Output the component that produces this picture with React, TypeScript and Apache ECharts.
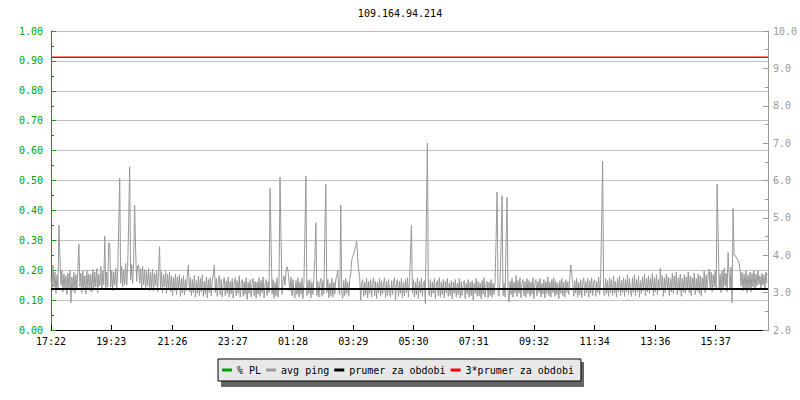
import React, { useEffect, useRef } from "react";
import * as echarts from "echarts";

const title = "109.164.94.214";
// minutes after 17:22 at which the time ticks sit
const tickMinutes = [0, 121, 244, 365, 486, 607, 728, 849, 970, 1092, 1214, 1335];
const tickLabels = ["17:22", "19:23", "21:26", "23:27", "01:28", "03:29", "05:30", "07:31", "09:32", "11:34", "13:36", "15:37"];
const periodMinutes = 1440;
const sampleStepMinutes = 2;
const seriesNames = ["% PL", "avg ping", "prumer za obdobi", "3*prumer za obdobi"];
const seriesColors = ["#00a000", "#999999", "#000000", "#ff0000"];
const avgPing = 3.1;
const tripleAvg = 9.3;
const plValues: number[] = [];
const pingValues = [
  3.40, 3.05, 3.74, 3.15, 3.55, 2.98, 3.48, 3.10, 4.81, 3.96, 3.20, 3.58, 3.02, 3.50, 3.12, 3.45, 2.95, 3.52, 3.08, 3.60,
  2.73, 3.42, 3.05, 3.55, 2.98, 3.48, 3.10, 3.62, 4.30, 3.15, 3.52, 3.00, 3.58, 3.08, 3.45, 2.96, 3.60, 3.12, 3.50, 3.05,
  3.48, 3.02, 3.62, 3.10, 3.55, 3.15, 3.65, 3.00, 3.50, 3.18, 3.70, 3.08, 3.58, 3.20, 4.51, 3.12, 3.55, 3.15, 4.34, 4.30,
  3.15, 3.60, 3.05, 3.55, 3.20, 3.65, 3.08, 3.58, 4.78, 6.06, 3.25, 3.70, 3.15, 3.62, 3.22, 3.78, 3.20, 3.68, 4.87, 6.37,
  3.35, 3.75, 3.25, 3.80, 5.34, 4.14, 3.30, 3.72, 3.74, 3.25, 3.65, 3.12, 3.70, 3.20, 3.62, 3.10, 3.58, 3.18, 3.66, 3.05,
  3.55, 3.12, 3.62, 3.05, 3.52, 3.18, 3.60, 3.02, 3.50, 4.23, 3.10, 3.56, 3.00, 3.48, 3.15, 3.58, 2.98, 3.50, 3.08, 3.55,
  3.02, 3.45, 2.92, 3.40, 3.05, 3.50, 2.95, 3.42, 3.08, 3.48, 2.90, 3.38, 3.00, 3.45, 2.94, 3.35, 3.05, 3.52, 3.74, 3.02,
  3.40, 2.92, 3.35, 3.00, 3.46, 2.88, 3.32, 2.98, 3.44, 2.92, 3.38, 3.02, 3.48, 2.90, 3.30, 2.96, 3.42, 2.86, 3.35, 3.00,
  3.40, 2.92, 3.32, 3.50, 3.74, 3.00, 3.38, 2.90, 3.30, 3.45, 2.94, 3.35, 2.88, 3.28, 3.40, 2.92, 3.32, 2.98, 3.42, 2.88,
  3.30, 2.96, 3.38, 2.85, 3.28, 3.40, 2.92, 3.32, 2.98, 3.45, 2.88, 3.25, 3.35, 2.90, 3.30, 2.95, 3.40, 2.82, 3.28, 2.98,
  3.35, 2.88, 3.25, 3.38, 2.92, 3.30, 2.85, 3.28, 2.96, 3.40, 2.90, 3.32, 3.00, 3.42, 2.86, 3.25, 3.35, 2.92, 3.30, 3.00,
  5.79, 4.39, 2.96, 3.35, 2.85, 3.28, 2.92, 3.40, 2.88, 3.25, 6.09, 4.51, 2.95, 3.32, 3.45, 3.20, 3.55, 3.69, 3.60, 3.30,
  3.05, 3.42, 2.92, 3.35, 2.98, 2.86, 3.32, 2.95, 3.40, 2.88, 3.28, 2.96, 3.38, 2.84, 3.25, 4.60, 6.12, 2.92, 3.32, 2.98,
  3.35, 2.86, 3.28, 2.95, 3.40, 3.93, 4.87, 2.92, 3.30, 2.88, 3.25, 3.38, 2.90, 3.32, 2.96, 4.57, 5.90, 3.00, 3.35, 2.86,
  3.25, 2.92, 3.38, 2.88, 3.28, 2.96, 3.35, 3.45, 3.60, 3.08, 2.95, 5.34, 3.02, 2.85, 3.32, 2.92, 3.38, 2.98, 3.28, 2.90,
  3.35, 3.50, 3.87, 3.95, 4.03, 4.15, 4.25, 4.38, 3.90, 3.60, 3.40, 2.80, 3.25, 3.35, 2.90, 3.28, 2.95, 3.38, 2.86, 3.30,
  2.98, 3.35, 2.88, 3.25, 3.40, 2.92, 3.30, 2.84, 3.28, 3.00, 3.38, 2.90, 3.32, 2.96, 3.25, 3.40, 2.86, 3.30, 2.92, 3.35,
  3.00, 2.88, 3.32, 2.95, 3.28, 3.40, 2.80, 3.25, 3.35, 2.90, 3.30, 2.98, 3.38, 2.86, 3.28, 2.92, 3.35, 3.00, 3.40, 2.88,
  3.30, 3.98, 4.81, 2.98, 3.35, 2.88, 3.28, 2.95, 3.40, 2.84, 3.30, 3.00, 3.38, 2.90, 3.25, 3.32, 2.70, 5.00, 7.00, 3.05,
  2.92, 3.35, 2.88, 3.28, 2.98, 3.38, 2.84, 3.25, 3.32, 2.92, 3.40, 2.88, 3.28, 2.95, 3.35, 2.86, 3.30, 3.00, 3.38, 2.90,
  3.25, 2.92, 3.32, 2.84, 3.28, 2.98, 3.35, 2.88, 3.25, 2.95, 3.38, 2.86, 3.30, 2.92, 3.22, 3.32, 2.84, 3.25, 2.96, 3.35,
  2.88, 3.28, 2.92, 3.32, 2.80, 3.25, 2.98, 3.38, 2.90, 3.30, 2.92, 3.25, 2.84, 3.32, 2.95, 3.40, 2.88, 3.22, 3.30, 2.86,
  3.28, 2.92, 3.35, 2.88, 3.25, 2.95, 3.32, 4.43, 5.69, 2.98, 2.90, 3.30, 4.30, 5.59, 2.92, 3.25, 2.88, 4.30, 5.55, 3.00,
  2.75, 3.30, 2.95, 3.38, 2.88, 3.28, 3.00, 3.45, 2.90, 3.32, 2.98, 3.40, 2.86, 3.25, 3.35, 2.92, 3.30, 2.88, 3.38, 2.98,
  3.32, 2.90, 3.28, 2.95, 3.40, 2.84, 3.25, 3.35, 2.92, 3.30, 3.00, 3.38, 2.88, 3.25, 2.96, 3.35, 2.86, 3.30, 2.98, 3.42,
  2.92, 3.28, 2.88, 3.35, 3.00, 3.40, 2.90, 3.30, 2.95, 3.25, 2.84, 3.32, 2.98, 3.38, 2.92, 3.28, 2.88, 3.35, 3.00, 3.30,
  2.95, 3.40, 3.74, 3.50, 3.25, 2.90, 3.32, 2.98, 3.38, 2.88, 3.28, 2.95, 3.35, 2.86, 3.25, 3.40, 2.92, 3.30, 3.00, 3.38,
  2.88, 3.32, 2.98, 3.40, 2.92, 3.28, 3.35, 2.90, 3.30, 3.00, 3.42, 2.95, 3.35, 4.86, 6.52, 3.02, 2.92, 3.38, 2.98, 3.32,
  2.90, 3.40, 3.00, 3.35, 2.92, 3.45, 2.98, 3.30, 2.88, 3.38, 3.02, 3.45, 2.92, 3.32, 3.00, 3.40, 2.90, 3.35, 3.02, 3.48,
  2.95, 3.38, 3.05, 2.90, 3.40, 3.00, 3.48, 2.92, 3.35, 3.02, 3.45, 2.88, 3.32, 2.98, 3.42, 3.05, 3.50, 2.92, 3.38, 3.02,
  3.45, 2.98, 3.38, 3.08, 3.52, 2.92, 3.40, 3.02, 3.48, 2.95, 3.35, 3.05, 3.66, 3.10, 3.45, 2.90, 3.40, 3.00, 3.50, 3.08,
  3.42, 2.92, 3.38, 3.02, 3.52, 2.98, 3.45, 3.10, 3.55, 2.95, 3.40, 3.05, 3.50, 2.90, 3.38, 3.02, 3.48, 2.98, 3.42, 3.08,
  3.55, 3.00, 3.45, 2.92, 3.40, 3.10, 3.52, 2.95, 3.38, 3.05, 3.50, 2.98, 3.45, 2.90, 3.40, 3.08, 3.58, 3.00, 3.48, 3.12,
  3.45, 3.63, 3.08, 3.55, 3.02, 3.48, 3.15, 3.60, 3.10, 5.90, 4.57, 3.12, 3.50, 3.00, 3.58, 3.08, 3.65, 3.18, 3.52, 3.02,
  4.07, 3.50, 3.12, 3.68, 2.73, 5.26, 4.00, 4.00, 3.95, 3.90, 3.87, 3.80, 3.60, 3.18, 3.55, 3.05, 3.50, 3.12, 3.58, 3.00,
  3.48, 3.10, 3.55, 3.02, 3.52, 3.15, 3.60, 3.08, 3.50, 3.18, 3.58, 3.22, 3.45, 3.10, 3.52, 3.20, 3.48, 3.12, 3.55, 3.25,
];

const MONO = "'DejaVu Sans Mono', monospace";

export default function App() {
  const ref = useRef<HTMLDivElement>(null);
  useEffect(() => {
    if (!ref.current) return;
    const chart = echarts.init(ref.current, undefined, { renderer: "svg" });
    const pingData = pingValues.map((v, i) => [i * sampleStepMinutes, v]);
    const plData = plValues.map((v, i) => [i * sampleStepMinutes, v]);
    chart.setOption({
      animation: false,
      backgroundColor: "#ffffff",
      title: {
        text: title,
        left: "center",
        top: 3,
        textStyle: { fontFamily: MONO, fontSize: 10, fontWeight: "normal", color: "#000" },
      },
      legend: {
        left: 218,
        top: 359,
        z: 5,
        padding: [6, 7, 6, 4],
        itemGap: 5,
        itemWidth: 10,
        itemHeight: 3,
        icon: "rect",
        backgroundColor: "#e8e8e8",
        borderColor: "#000",
        borderWidth: 1,
        textStyle: { fontFamily: MONO, fontSize: 10, color: "#000" },
        data: seriesNames,
      },
      graphic: [
        {
          type: "rect",
          z: 1,
          shape: { x: 221, y: 362, width: 363, height: 25 },
          style: { fill: "#666666" },
        },
      ],
      grid: { left: 51, right: 30, top: 31, bottom: 70 },
      xAxis: {
        type: "value",
        min: 0,
        max: periodMinutes,
        axisLine: { lineStyle: { color: "#000", width: 1 } },
        axisTick: { inside: true, length: 5, lineStyle: { color: "#000" }, customValues: tickMinutes },
        splitLine: { show: false },
        axisLabel: {
          margin: 6,
          fontFamily: MONO,
          fontSize: 10,
          color: "#000",
          customValues: tickMinutes,
          formatter: (v: number) => {
            const k = tickMinutes.indexOf(v);
            return k >= 0 ? tickLabels[k] : "";
          },
        },
      },
      yAxis: [
        {
          type: "value",
          min: 0,
          max: 1,
          interval: 0.1,
          position: "left",
          axisLine: { show: true, lineStyle: { color: "#00a000", width: 1 } },
          axisTick: { show: true, inside: true, length: 5, lineStyle: { color: "#00a000" } },
          minorTick: { show: true, splitNumber: 2, length: 3, lineStyle: { color: "#00a000" } },
          splitLine: { show: true, lineStyle: { color: "#c0c0c0", width: 1 } },
          axisLabel: {
            margin: 8,
            fontFamily: MONO,
            fontSize: 10,
            color: "#00a000",
            formatter: (v: number) => v.toFixed(2),
          },
        },
        {
          type: "value",
          min: 2,
          max: 10,
          interval: 1,
          position: "right",
          axisLine: { show: true, lineStyle: { color: "#999999", width: 1 } },
          axisTick: { show: true, inside: true, length: 5, lineStyle: { color: "#999999" } },
          minorTick: { show: true, splitNumber: 2, length: 3, lineStyle: { color: "#999999" } },
          splitLine: { show: false },
          axisLabel: {
            margin: 5,
            fontFamily: MONO,
            fontSize: 10,
            color: "#999999",
            formatter: (v: number) => v.toFixed(1),
          },
        },
      ],
      series: [
        {
          name: seriesNames[0],
          type: "line",
          yAxisIndex: 0,
          data: plData,
          symbol: "none",
          color: seriesColors[0],
          lineStyle: { color: seriesColors[0], width: 1 },
        },
        {
          name: seriesNames[1],
          type: "line",
          yAxisIndex: 1,
          data: pingData,
          symbol: "none",
          color: seriesColors[1],
          lineStyle: { color: seriesColors[1], width: 1 },
        },
        {
          name: seriesNames[2],
          type: "line",
          yAxisIndex: 1,
          data: [[0, avgPing], [periodMinutes, avgPing]],
          symbol: "none",
          color: seriesColors[2],
          lineStyle: { color: seriesColors[2], width: 2 },
        },
        {
          name: seriesNames[3],
          type: "line",
          yAxisIndex: 1,
          data: [[0, tripleAvg], [periodMinutes, tripleAvg]],
          symbol: "none",
          color: seriesColors[3],
          lineStyle: { color: seriesColors[3], width: 1.5 },
        },
      ],
    });
    return () => chart.dispose();
  }, []);
  return (
    <div
      ref={ref}
      style={{ position: "fixed", left: 0, top: 0, width: 800, height: 400 }}
    />
  );
}
